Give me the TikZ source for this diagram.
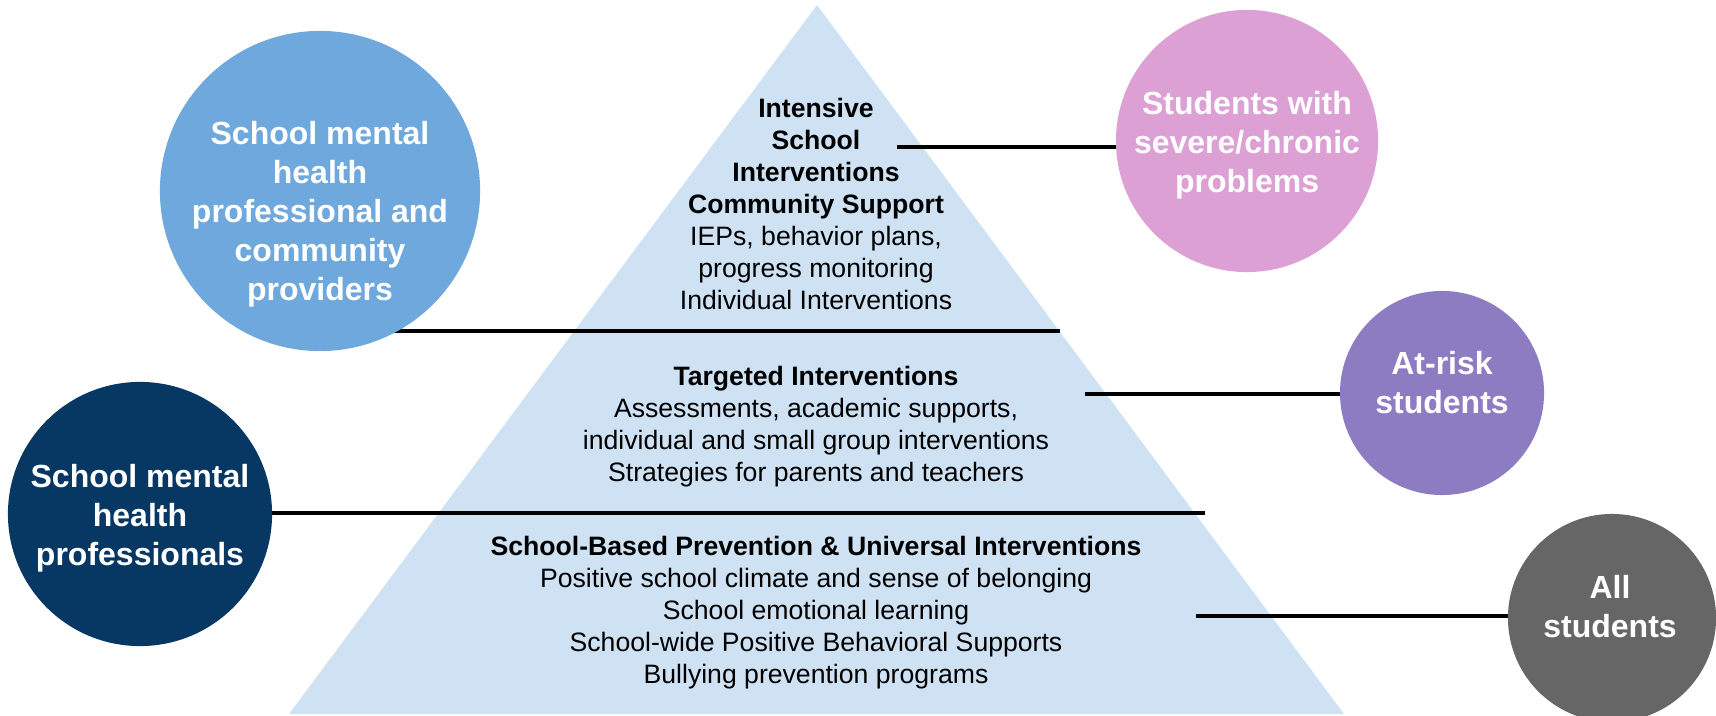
\documentclass[tikz,border=0pt]{standalone}
\usepackage{fontspec}
\setmainfont{Liberation Sans}
\usepackage{tikz}
\usetikzlibrary{positioning, calc, backgrounds}
\definecolor{pyrblue}{HTML}{CFE2F3}
\definecolor{provblue}{HTML}{6FA8DC}
\definecolor{sevpink}{HTML}{DCA0D4}
\definecolor{riskpurple}{HTML}{8E7CC3}
\definecolor{mhnavy}{HTML}{073763}
\definecolor{allgray}{HTML}{666666}

\begin{document}
\begin{tikzpicture}[
		x=0.01cm, y=-0.01cm,
		group/.style={circle, inner sep=0pt, draw=none},
		grouptext/.style={text=white, align=center, font=\bfseries\fontsize{9.1pt}{11.1pt}\selectfont},
		tiertext/.style={align=center, font=\fontsize{7.57pt}{9.1pt}\selectfont},
		tierline/.style={line width=0.033cm, black}
		]
	
		\useasboundingbox (0,0) rectangle (1716,716);
	
		% --- Cercles (groupes) ---
		\node[group, fill=provblue, minimum size=3.2cm] (prov) at (320,191) {};
		\node[grouptext] (provlbl) at (320,214) {School mental\\health\\professional and\\community\\providers};
		\node[group, fill=sevpink, minimum size=2.62cm] (sev) at (1247,141) {};
		\node[grouptext] (sevlbl) at (1247,145) {Students with\\severe/chronic\\problems};
		\node[group, fill=riskpurple, minimum size=2.04cm] (risk) at (1442,393) {};
		\node[grouptext] (risklbl) at (1442,383) {At-risk\\students};
		\node[group, fill=mhnavy, minimum size=2.64cm] (mh) at (140,514) {};
		\node[grouptext] (mhlbl) at (140,518) {School mental\\health\\professionals};
		\node[group, fill=allgray, minimum size=2.08cm] (all) at (1612,618) {};
		\node[grouptext] (alllbl) at (1610,607) {All\\students};
	
		% --- Pyramide ---
		\coordinate (apex) at (817,5);
		\coordinate (baseL) at (289,714);
		\coordinate (baseR) at (1344,714);
	
		\node[tiertext] (top) at (816,204) {\textbf{Intensive}\\\textbf{School}\\\textbf{Interventions}\\\textbf{Community Support}\\IEPs, behavior plans,\\progress monitoring\\Individual Interventions};
		\node[tiertext] (mid) at (816,427) {\textbf{Targeted Interventions}\\Assessments, academic supports,\\individual and small group interventions\\Strategies for parents and teachers};
		\node[tiertext] (base) at (816,613) {\textbf{School-Based Prevention \& Universal Interventions}\\Positive school climate and sense of belonging\\School emotional learning\\School-wide Positive Behavioral Supports\\Bullying prevention programs};
	
		% --- Traits ---
		\coordinate (sevend) at (897,147);
		\coordinate (tier1) at (1060,331);
		\coordinate (riskend) at (1085,394);
		\coordinate (tier2) at (1205,513);
		\coordinate (allend) at (1196,616);
	
		\begin{scope}[on background layer]
			\fill[pyrblue] (baseL) -- (apex) -- (baseR) -- cycle;
			\draw[tierline] (sevend) -- (sevend -| sev.center);
			\draw[tierline] (prov.center |- tier1) -- (tier1);
			\draw[tierline] (riskend) -- (riskend -| risk.center);
			\draw[tierline] (mh.center |- tier2) -- (tier2);
			\draw[tierline] (allend) -- (allend -| all.center);
		\end{scope}
	
	\end{tikzpicture}
\end{document}
